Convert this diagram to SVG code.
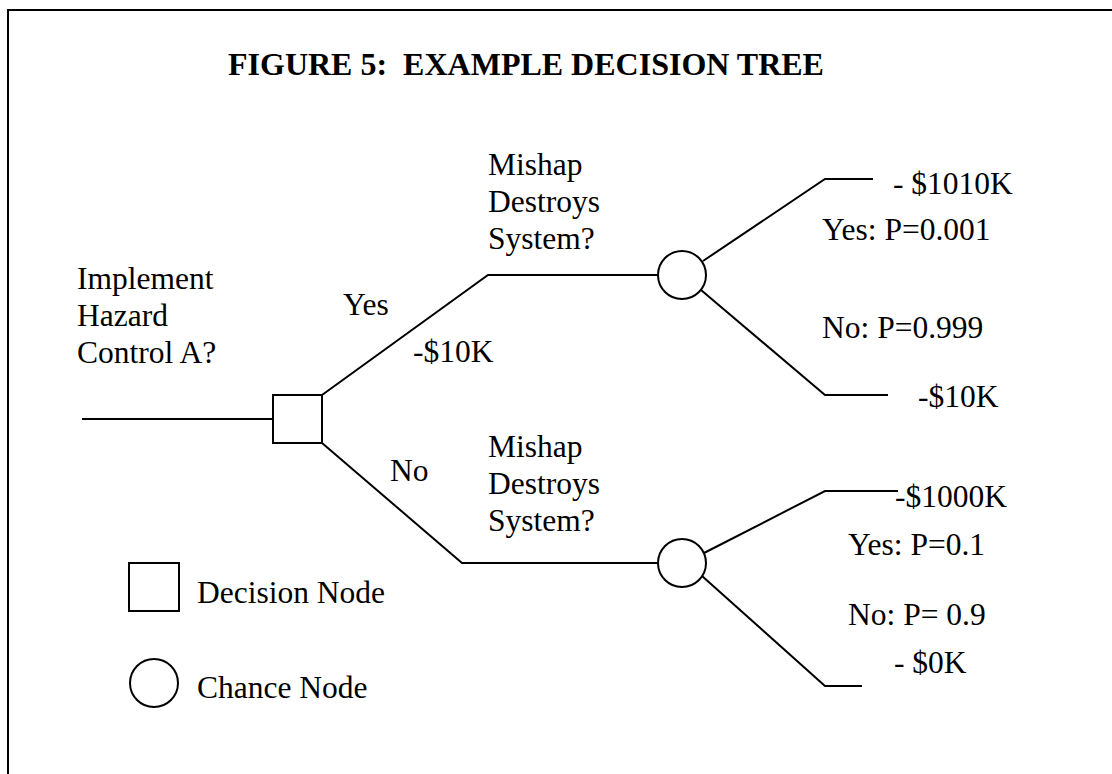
<svg xmlns="http://www.w3.org/2000/svg" width="1112" height="774" viewBox="0 0 1112 774">
<style>
text{font-family:"Liberation Serif","Times New Roman",serif;font-size:31.5px;fill:#000}
.title{font-weight:bold;font-size:32px;white-space:pre}
.ln{fill:none;stroke:#000;stroke-width:2}
.nd{fill:#fff;stroke:#000;stroke-width:2}
</style>
<rect width="1112" height="774" fill="#fff"/>
<path class="ln" d="M8,774 V10 H1112" stroke-width="3"/>
<text id="title" class="title" x="228" y="75" xml:space="preserve">FIGURE 5:  EXAMPLE DECISION TREE</text>
<g id="connectors">
<path class="ln" d="M82,419 H273"/>
<path class="ln" d="M322,395 L488,275 H658"/>
<path class="ln" d="M322,443 L462,563 H658"/>
<path class="ln" d="M703,261 L825,179 H873"/>
<path class="ln" d="M701,290 L825,395 H888"/>
<path class="ln" d="M704,553 L825,491 H898"/>
<path class="ln" d="M702,576 L825,686 H862"/>
</g>
<g id="decision-node"><rect class="nd" x="273" y="395" width="49" height="48"/></g>
<g id="chance-node-1"><circle class="nd" cx="682" cy="275" r="24"/></g>
<g id="chance-node-2"><circle class="nd" cx="682" cy="563" r="24"/></g>
<g id="labels">
<text x="77" y="289">Implement</text>
<text x="77" y="326">Hazard</text>
<text x="77" y="363">Control A?</text>
<text x="343" y="315">Yes</text>
<text x="413" y="362">-$10K</text>
<text x="390" y="481">No</text>
<text x="488" y="175">Mishap</text>
<text x="488" y="212">Destroys</text>
<text x="488" y="249">System?</text>
<text x="488" y="457">Mishap</text>
<text x="488" y="494">Destroys</text>
<text x="488" y="531">System?</text>
<text x="893" y="194" xml:space="preserve">- $1010K</text>
<text x="822" y="240">Yes: P=0.001</text>
<text x="822" y="338">No: P=0.999</text>
<text x="918" y="407">-$10K</text>
<text x="895" y="507">-$1000K</text>
<text x="848" y="555">Yes: P=0.1</text>
<text x="848" y="625" xml:space="preserve">No: P= 0.9</text>
<text x="894" y="673" xml:space="preserve">- $0K</text>
</g>
<g id="legend-decision"><rect class="nd" x="129" y="563" width="50" height="48"/><text x="197" y="603">Decision Node</text></g>
<g id="legend-chance"><circle class="nd" cx="154" cy="683" r="24"/><text x="197" y="698">Chance Node</text></g>
</svg>
